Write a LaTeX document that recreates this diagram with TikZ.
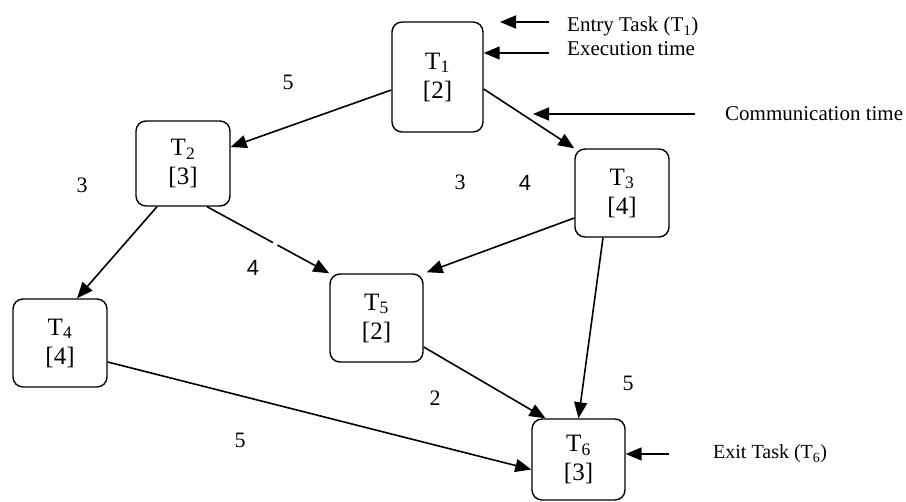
\documentclass[tikz,border=0pt]{standalone}
\usepackage{fontspec}
\setmainfont{Liberation Serif}
\newfontfamily\arialfont{Liberation Sans}
\usetikzlibrary{arrows.meta,calc}
\begin{document}
\begin{tikzpicture}[x=1pt,y=-1pt,
  task/.style={draw, line width=1.4pt, rounded corners=10pt, align=center,
    inner sep=0pt, font=\fontsize{25}{29}\selectfont},
  edge/.style={-{Triangle[length=16pt,width=13pt]}, line width=1.6pt},
  pointer/.style={-{Triangle[length=16pt,width=13pt]}, line width=1.6pt},
  lab/.style={font=\fontsize{22}{24}\selectfont, inner sep=0pt},
  sanslab/.style={font=\arialfont\fontsize{22}{24}\selectfont, inner sep=0pt},
  note/.style={font=\fontsize{21}{23}\selectfont, inner sep=0pt, anchor=base west}]
\useasboundingbox[fill=white] (0,0) rectangle (906,502);

% tasks
\node[task, minimum width=91pt, minimum height=110pt] (t1) at (437.5,77) {T\textsubscript{1}\\ {[2]}};
\node[task, minimum width=94pt, minimum height=85pt]  (t2) at (183,163.5) {T\textsubscript{2}\\ {[3]}};
\node[task, minimum width=94pt, minimum height=88pt]  (t3) at (622,193) {T\textsubscript{3}\\ {[4]}};
\node[task, minimum width=94pt, minimum height=88pt]  (t4) at (60,343) {T\textsubscript{4}\\ {[4]}};
\node[task, minimum width=93pt, minimum height=88pt]  (t5) at (376.5,318) {T\textsubscript{5}\\ {[2]}};
\node[task, minimum width=93pt, minimum height=81pt]  (t6) at (578.5,459.5) {T\textsubscript{6}\\ {[3]}};

% edges
\draw[edge] ([yshift=-13pt]t1.west) -- ([yshift=16.5pt]t2.east);
\draw[edge] ([yshift=-12pt]t1.east) -- (t3.north west);
\draw[edge] ([xshift=-26pt]t2.south) -- ([xshift=17pt]t4.north);
\coordinate (s25) at ([xshift=24pt]t2.south);
\draw[edge] (s25) -- (t5.north west);
\draw[white, line width=3pt] ($(s25)!0.54!(t5.north west)$) -- ($(s25)!0.575!(t5.north west)$);
\draw[edge] ([yshift=-25pt]t3.west) -- ([xshift=3pt,yshift=1pt]t5.north east);
\draw[edge] ([xshift=-19pt]t3.south) -- (t6.north);
\draw[edge] ([yshift=-29pt]t5.east) -- ([xshift=-33pt]t6.north);
\draw[edge] ([yshift=-19pt]t4.east) -- ([yshift=-10pt]t6.west);

% edge weights
\node[lab] (w12) at (288,82) {5};
\node[lab] (w24) at (82,185) {3};
\node[sanslab] (w25) at (253,268) {4};
\node[lab] (w35) at (460,182) {3};
\node[sanslab] (w13) at (525,183) {4};
\node[lab] (w36) at (628,383) {5};
\node[lab] (w56) at (435,398) {2};
\node[lab] (w46) at (240,440) {5};

% annotations
\node[note] (entry) at (567,32) {Entry Task (T\textsubscript{1})};
\node[note] (exec) at (567,56) {Execution time};
\node[note] (comm) at (725,121) {Communication time};
\node[note, font=\fontsize{20}{22}\selectfont] (exit) at (713,459) {Exit Task (T\textsubscript{6})};

\coordinate (entrystart) at (549,22);
\coordinate (entrytip) at (500,22);
\draw[pointer] (entrystart) -- (entrytip);
\coordinate (execstart) at (549,53);
\draw[pointer] (execstart) -- ([yshift=24pt]t1.east);
\coordinate (commstart) at (695,114);
\coordinate (commtip) at (533,114);
\draw[pointer] (commstart) -- (commtip);
\coordinate (exitstart) at (669,454);
\draw[pointer] (exitstart) -- ([yshift=5.5pt]t6.east);
\end{tikzpicture}
\end{document}
